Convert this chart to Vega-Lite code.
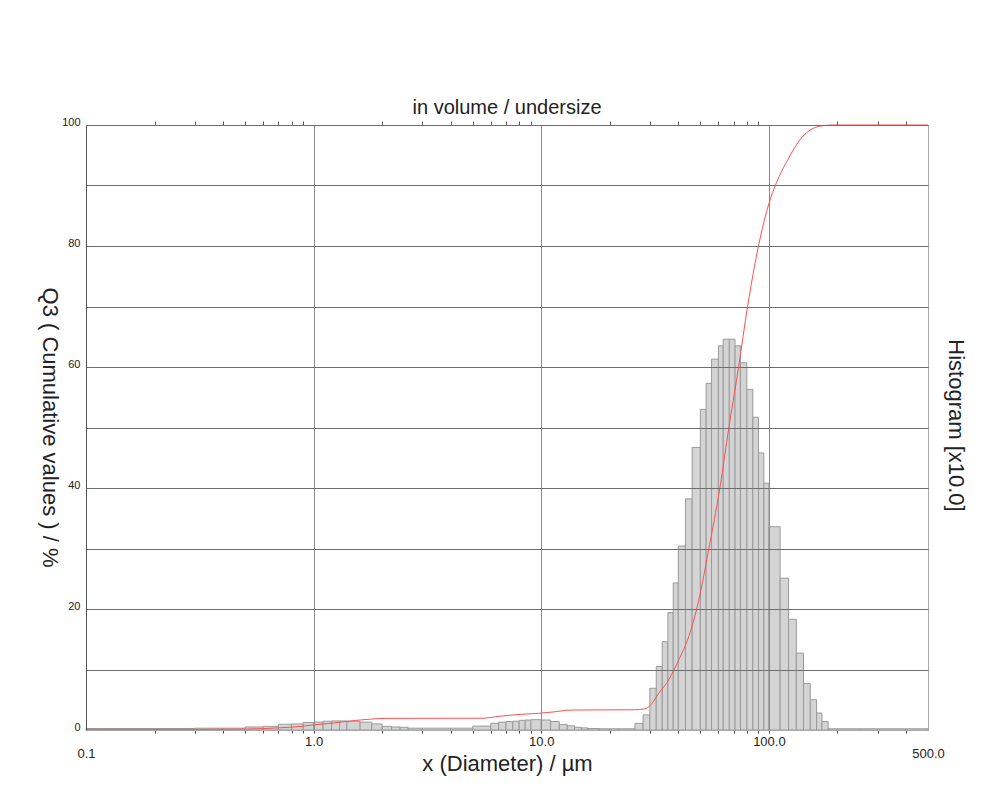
{
  "$schema": "https://vega.github.io/schema/vega-lite/v6.json",
  "width": 842,
  "height": 605,
  "autosize": {"type": "none"},
  "padding": {"left": 86, "top": 125, "right": 70, "bottom": 57},
  "background": "white",
  "title": {"text": "in volume / undersize", "fontSize": 20, "fontWeight": "normal", "color": "#222", "offset": -2, "anchor": "middle"},
  "config": {
    "font": "Liberation Sans",
    "view": {"stroke": "#aaaaaa"},
    "axis": {"labelColor": "#222", "titleColor": "#222", "titleFontWeight": "normal"}
  },
  "datasets": {
    "hist": [
      {"lo": 0.1, "hi": 0.2, "h": 0.25},
      {"lo": 0.2, "hi": 0.3, "h": 0.25},
      {"lo": 0.3, "hi": 0.4, "h": 0.3},
      {"lo": 0.4, "hi": 0.5, "h": 0.3},
      {"lo": 0.5, "hi": 0.6, "h": 0.5},
      {"lo": 0.6, "hi": 0.7, "h": 0.6},
      {"lo": 0.7, "hi": 0.8, "h": 0.95},
      {"lo": 0.8, "hi": 0.9, "h": 1.0},
      {"lo": 0.9, "hi": 1.0, "h": 1.25},
      {"lo": 1.0, "hi": 1.1, "h": 1.3},
      {"lo": 1.1, "hi": 1.2, "h": 1.45},
      {"lo": 1.2, "hi": 1.3, "h": 1.5},
      {"lo": 1.3, "hi": 1.4, "h": 1.5},
      {"lo": 1.4, "hi": 1.6, "h": 1.45},
      {"lo": 1.6, "hi": 1.8, "h": 1.3},
      {"lo": 1.8, "hi": 2.0, "h": 1.0},
      {"lo": 2.0, "hi": 2.2, "h": 0.6},
      {"lo": 2.2, "hi": 2.4, "h": 0.5},
      {"lo": 2.4, "hi": 2.6, "h": 0.45},
      {"lo": 2.6, "hi": 3.0, "h": 0.3},
      {"lo": 3.0, "hi": 4.0, "h": 0.3},
      {"lo": 4.0, "hi": 5.0, "h": 0.3},
      {"lo": 5.0, "hi": 6.0, "h": 0.65},
      {"lo": 6.0, "hi": 6.5, "h": 1.1},
      {"lo": 6.5, "hi": 7.0, "h": 1.3},
      {"lo": 7.0, "hi": 7.5, "h": 1.4},
      {"lo": 7.5, "hi": 8.0, "h": 1.45},
      {"lo": 8.0, "hi": 8.5, "h": 1.6},
      {"lo": 8.5, "hi": 9.0, "h": 1.65},
      {"lo": 9.0, "hi": 10, "h": 1.7},
      {"lo": 10, "hi": 11, "h": 1.65},
      {"lo": 11, "hi": 12, "h": 1.4},
      {"lo": 12, "hi": 13, "h": 0.9},
      {"lo": 13, "hi": 14, "h": 0.7},
      {"lo": 14, "hi": 15, "h": 0.45},
      {"lo": 15, "hi": 16, "h": 0.35},
      {"lo": 16, "hi": 18, "h": 0.25},
      {"lo": 18, "hi": 20, "h": 0.2},
      {"lo": 20, "hi": 22, "h": 0.2},
      {"lo": 22, "hi": 25.8, "h": 0.2},
      {"lo": 25.8, "hi": 28, "h": 1.1},
      {"lo": 28, "hi": 30, "h": 2.5},
      {"lo": 30, "hi": 32, "h": 6.9},
      {"lo": 32, "hi": 34, "h": 10.5},
      {"lo": 34, "hi": 36, "h": 14.6},
      {"lo": 36, "hi": 38, "h": 19.4},
      {"lo": 38, "hi": 40, "h": 24.3},
      {"lo": 40, "hi": 43, "h": 30.4},
      {"lo": 43, "hi": 46, "h": 38.2},
      {"lo": 46, "hi": 50, "h": 46.7},
      {"lo": 50, "hi": 53, "h": 53.0},
      {"lo": 53, "hi": 56, "h": 57.3},
      {"lo": 56, "hi": 60, "h": 61.3},
      {"lo": 60, "hi": 63, "h": 63.5},
      {"lo": 63, "hi": 67, "h": 64.6},
      {"lo": 67, "hi": 71, "h": 64.6},
      {"lo": 71, "hi": 75, "h": 63.5},
      {"lo": 75, "hi": 80, "h": 60.7},
      {"lo": 80, "hi": 85, "h": 56.3},
      {"lo": 85, "hi": 90, "h": 51.7},
      {"lo": 90, "hi": 95, "h": 45.8},
      {"lo": 95, "hi": 100, "h": 40.8},
      {"lo": 100, "hi": 112, "h": 33.6},
      {"lo": 112, "hi": 122, "h": 25.1},
      {"lo": 122, "hi": 132, "h": 18.3},
      {"lo": 132, "hi": 142, "h": 12.7},
      {"lo": 142, "hi": 152, "h": 7.7},
      {"lo": 152, "hi": 162, "h": 5.0},
      {"lo": 162, "hi": 171, "h": 2.8},
      {"lo": 171, "hi": 182, "h": 1.4},
      {"lo": 182, "hi": 200, "h": 0.2},
      {"lo": 200, "hi": 250, "h": 0.2},
      {"lo": 250, "hi": 300, "h": 0.2},
      {"lo": 300, "hi": 400, "h": 0.2},
      {"lo": 400, "hi": 500, "h": 0.2}
    ],
    "cum": [
      {"d": 0.1, "q": 0.1},
      {"d": 0.3, "q": 0.1},
      {"d": 0.5, "q": 0.15},
      {"d": 0.7, "q": 0.35},
      {"d": 0.88, "q": 0.6},
      {"d": 1.0, "q": 0.85},
      {"d": 1.15, "q": 1.05},
      {"d": 1.38, "q": 1.4},
      {"d": 1.78, "q": 1.8},
      {"d": 2.1, "q": 1.93},
      {"d": 5.6, "q": 1.95},
      {"d": 6.3, "q": 2.2},
      {"d": 8.2, "q": 2.6},
      {"d": 9.7, "q": 2.75},
      {"d": 11.4, "q": 3.0},
      {"d": 13.5, "q": 3.3},
      {"d": 25.7, "q": 3.35},
      {"d": 28.5, "q": 3.5},
      {"d": 30.0, "q": 4.0},
      {"d": 32.9, "q": 6.1},
      {"d": 36.3, "q": 8.3},
      {"d": 40.1, "q": 11.5},
      {"d": 44.4, "q": 15.4},
      {"d": 48.2, "q": 20},
      {"d": 54.5, "q": 30},
      {"d": 60.9, "q": 40},
      {"d": 66.7, "q": 50},
      {"d": 73.6, "q": 60},
      {"d": 80.6, "q": 70},
      {"d": 90, "q": 80},
      {"d": 100, "q": 87},
      {"d": 108, "q": 90.5},
      {"d": 120, "q": 94.0},
      {"d": 140, "q": 98.0},
      {"d": 167, "q": 99.8},
      {"d": 190, "q": 100},
      {"d": 500, "q": 100}
    ]
  },
  "layer": [
    {
      "data": {"name": "hist"},
      "mark": {"type": "rect", "fill": "#d4d4d4", "stroke": "#9a9a9a", "strokeWidth": 1},
      "encoding": {
        "x": {
          "field": "lo", "type": "quantitative",
          "scale": {"type": "log", "domain": [0.1, 500], "nice": false},
          "axis": {
            "orient": "bottom",
            "values": [0.1, 0.2, 0.3, 0.4, 0.5, 0.6, 0.7, 0.8, 0.9, 1, 2, 3, 4, 5, 6, 7, 8, 9, 10, 20, 30, 40, 50, 60, 70, 80, 90, 100, 200, 300, 400, 500],
            "title": "x (Diameter) / µm",
            "titleFontSize": 22,
            "titleY": 40,
            "titleBaseline": "alphabetic",
            "labelExpr": "datum.value == 0.1 ? ['', '0.1'] : datum.value == 500 ? ['', '500.0'] : (datum.value == 1 || datum.value == 10 || datum.value == 100) ? format(datum.value, '.1f') : ''",
            "labelFontSize": 13,
            "labelPadding": 2,
            "labelFlush": false,
            "labelOverlap": false,
            "labelBound": false,
            "tickSize": {"condition": {"test": "datum.value == 0.1 || datum.value == 500", "value": 0}, "value": 3},
            "tickColor": "#444",
            "grid": true,
            "gridColor": "#8a8a8a",
            "gridOpacity": {"condition": {"test": "datum.value == 1 || datum.value == 10 || datum.value == 100", "value": 1}, "value": 0},
            "domainColor": "#aaaaaa",
            "zindex": 1
          }
        },
        "x2": {"field": "hi"},
        "y": {
          "field": "h", "type": "quantitative",
          "scale": {"domain": [0, 100], "nice": false},
          "axis": {
            "orient": "left",
            "values": [0, 10, 20, 30, 40, 50, 60, 70, 80, 90, 100],
            "labelExpr": "datum.value % 20 == 0 ? datum.label : ''",
            "labelFontSize": 11,
            "labelPadding": 6,
            "labelBaseline": "alphabetic",
            "ticks": false,
            "grid": true,
            "gridColor": "#6e6e6e",
            "domainColor": "#555555",
            "title": "Q3 ( Cumulative values ) / %",
            "titleFontSize": 22,
            "titleAngle": 90,
            "titleX": -37,
            "titleY": 302,
            "titleAlign": "center",
            "titleBaseline": "middle",
            "zindex": 1
          }
        },
        "y2": {"datum": 0}
      }
    },
    {
      "data": {"name": "cum"},
      "mark": {"type": "line", "color": "#ff5050", "strokeWidth": 1, "interpolate": "monotone"},
      "encoding": {
        "x": {
          "field": "d", "type": "quantitative",
          "scale": {"type": "log", "domain": [0.1, 500], "nice": false},
          "axis": {
            "orient": "top",
            "values": [0.2, 0.3, 0.4, 0.5, 0.6, 0.7, 0.8, 0.9, 2, 3, 4, 5, 6, 7, 8, 9, 20, 30, 40, 50, 60, 70, 80, 90, 200, 300, 400],
            "labels": false,
            "grid": false,
            "tickSize": 4,
            "tickColor": "#555555",
            "domainColor": "#555555",
            "title": null
          }
        },
        "y": {
          "field": "q", "type": "quantitative",
          "scale": {"domain": [0, 100], "nice": false},
          "axis": {
            "orient": "right",
            "labels": false,
            "ticks": false,
            "grid": false,
            "domainColor": "#aaaaaa",
            "title": "Histogram [x10.0]",
            "titleFontSize": 22,
            "titleAngle": 90,
            "titleX": 27,
            "titleY": 300,
            "titleAlign": "center",
            "titleBaseline": "middle"
          }
        }
      }
    }
  ],
  "resolve": {"axis": {"x": "independent", "y": "independent"}}
}
